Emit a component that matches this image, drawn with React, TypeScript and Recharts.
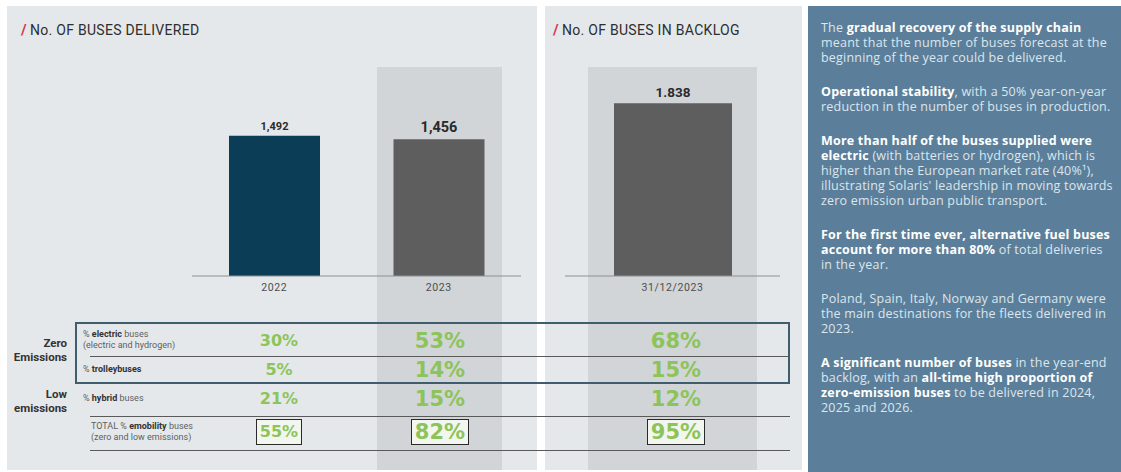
import { BarChart, Bar, XAxis, YAxis, Cell, LabelList } from 'recharts'

// bars
const deliveredYears = ['2022', '2023']
const deliveredBuses = [1492, 1456]
const deliveredLabels = ['1,492', '1,456']
const backlogDates = ['31/12/2023']
const backlogBuses = [1838]
const backlogLabels = ['1.838']

// table, one value per column: 2022, 2023, backlog
const electricShare = [30, 53, 68]
const trolleyShare = [5, 14, 15]
const hybridShare = [21, 15, 12]
const totalShare = [55, 82, 95]

const paragraphs: [string, boolean][][][] = [
  [
    [['The ', false], ['gradual recovery of the supply chain', true]],
    [['meant that the number of buses forecast at the', false]],
    [['beginning of the year could be delivered.', false]],
  ],
  [
    [['Operational stability', true], [', with a 50% year-on-year', false]],
    [['reduction in the number of buses in production.', false]],
  ],
  [
    [['More than half of the buses supplied were', true]],
    [['electric', true], [' (with batteries or hydrogen), which is', false]],
    [['higher than the European market rate (40%¹),', false]],
    [["illustrating Solaris' leadership in moving towards", false]],
    [['zero emission urban public transport.', false]],
  ],
  [
    [['For the first time ever, alternative fuel buses', true]],
    [['account for more than 80%', true], [' of total deliveries', false]],
    [['in the year.', false]],
  ],
  [
    [['Poland, Spain, Italy, Norway and Germany were', false]],
    [['the main destinations for the fleets delivered in', false]],
    [['2023.', false]],
  ],
  [
    [['A significant number of buses', true], ['  in the year-end', false]],
    [['backlog, with an ', false], ['all-time high proportion of', true]],
    [['zero-emission buses', true], [' to be delivered in 2024,', false]],
    [['2025 and 2026.', false]],
  ],
]

const PANEL = '#e4e8eb'
const HILITE = '#d1d5d8'
const GREEN = '#8cc45a'
const Y_MAX = 2000
const colX = [279, 440, 676]

const deliveredData = deliveredYears.map((year, i) => ({ year, value: deliveredBuses[i] }))
const backlogData = backlogDates.map((date, i) => ({ date, value: backlogBuses[i] }))

function valueLabel(labels: string[], sizes: number[], gaps: number[]) {
  return (props: any) => {
    const { x, y, width, index } = props
    return (
      <text
        x={Number(x) + Number(width) / 2}
        y={Number(y) - gaps[index]}
        textAnchor="middle"
        dominantBaseline="central"
        fontSize={sizes[index]}
        fontWeight={700}
        fill="#2a2a2a"
        fontFamily="Roboto"
      >
        {labels[index]}
      </text>
    )
  }
}

function Title({ x, text }: { x: number; text: string }) {
  return (
    <div style={{ position: 'absolute', left: x, top: 21, fontFamily: 'Roboto', fontSize: 14, fontWeight: 400, letterSpacing: 0.3, color: '#2e2e2e', whiteSpace: 'nowrap' }}>
      <span style={{ color: '#d23a4c', fontWeight: 700, marginRight: 3, fontSize: 15 }}>/</span>
      {text}
    </div>
  )
}

function Pct({ x, y, v, size, boxed }: { x: number; y: number; v: number; size: number; boxed?: boolean }) {
  return (
    <div
      style={{
        position: 'absolute',
        left: x - 40,
        width: 80,
        top: y - 15,
        height: 30,
        lineHeight: '30px',
        textAlign: 'center',
        fontFamily: 'DejaVu Sans',
        fontWeight: 700,
        fontSize: size,
        color: GREEN,
      }}
    >
      {boxed ? (
        <span style={{ display: 'inline-block', lineHeight: '24px', padding: '0 3px', border: '1.5px solid #2a2a2a', background: '#f3f6ef' }}>
          {v}%
        </span>
      ) : (
        `${v}%`
      )}
    </div>
  )
}

function HLine({ y, x1, x2, w, color }: { y: number; x1: number; x2: number; w: number; color: string }) {
  return <div style={{ position: 'absolute', left: x1, top: y, width: x2 - x1, height: w, background: color }} />
}

export default function App() {
  const small = { position: 'absolute' as const, left: 83, fontFamily: 'Roboto', fontSize: 9, color: '#5e5e5e', whiteSpace: 'nowrap' as const, lineHeight: '11px' }
  const group = { position: 'absolute' as const, right: 1121 - 67, fontFamily: 'Roboto', fontSize: 11.5, fontWeight: 700, color: '#333', textAlign: 'right' as const, lineHeight: '14px' }
  const tick = { fontSize: 10.5, fill: '#4d4d4d', fontFamily: 'Roboto', letterSpacing: 0.6 }
  return (
    <div style={{ position: 'relative', width: 1121, height: 472, background: '#fff', overflow: 'hidden' }}>
      <style>{'body{margin:0}'}</style>
      <div style={{ position: 'absolute', left: 7, top: 6, width: 530, height: 464, background: PANEL }} />
      <div style={{ position: 'absolute', left: 545, top: 6, width: 257, height: 464, background: PANEL }} />
      <div style={{ position: 'absolute', left: 377, top: 67, width: 125, height: 403, background: HILITE }} />
      <div style={{ position: 'absolute', left: 588, top: 67, width: 169, height: 403, background: HILITE }} />

      <Title x={21} text="No. OF BUSES DELIVERED" />
      <Title x={553} text="No. OF BUSES IN BACKLOG" />

      <div style={{ position: 'absolute', left: 192, top: 60 }}>
        <BarChart width={329} height={250} data={deliveredData} margin={{ top: 28, right: 0, left: 0, bottom: 0 }}>
          <XAxis dataKey="year" height={34} tickLine={false} axisLine={{ stroke: '#8c9195' }} tick={tick} interval={0} />
          <YAxis hide domain={[0, Y_MAX]} />
          <Bar dataKey="value" barSize={91} isAnimationActive={false}>
            {deliveredData.map((d, i) => (
              <Cell key={d.year} fill={i === 0 ? '#0b3d57' : '#5e5e5e'} />
            ))}
            <LabelList dataKey="value" content={valueLabel(deliveredLabels, [11, 14.5], [9, 12])} />
          </Bar>
        </BarChart>
      </div>

      <div style={{ position: 'absolute', left: 565, top: 60 }}>
        <BarChart width={215} height={250} data={backlogData} margin={{ top: 28, right: 0, left: 0, bottom: 0 }}>
          <XAxis dataKey="date" height={34} tickLine={false} axisLine={{ stroke: '#8c9195' }} tick={tick} interval={0} />
          <YAxis hide domain={[0, Y_MAX]} />
          <Bar dataKey="value" barSize={118} fill="#5e5e5e" isAnimationActive={false}>
            <LabelList dataKey="value" content={valueLabel(backlogLabels, [13.5], [11])} />
          </Bar>
        </BarChart>
      </div>

      {/* table */}
      <div style={{ position: 'absolute', left: 75, top: 322, width: 715, height: 62, border: '2px solid #3f5d6c', boxSizing: 'border-box' }} />
      <HLine y={356} x1={90} x2={790} w={1} color="#5a5a5a" />
      <HLine y={416} x1={90} x2={790} w={1} color="#5a5a5a" />
      <HLine y={450} x1={90} x2={790} w={1} color="#5a5a5a" />

      <div style={{ ...group, top: 336 }}>Zero<br />Emissions</div>
      <div style={{ ...group, top: 387 }}>Low<br />emissions</div>

      <div style={{ ...small, top: 329 }}>% <b style={{ color: '#333' }}>electric</b> buses<br />(electric and hydrogen)</div>
      <div style={{ ...small, top: 364 }}>% <b style={{ color: '#333' }}>trolleybuses</b></div>
      <div style={{ ...small, top: 393 }}>% <b style={{ color: '#333' }}>hybrid</b> buses</div>
      <div style={{ ...small, left: 91, top: 421 }}>TOTAL % <b style={{ color: '#333' }}>emobility</b> buses<br />(zero and low emissions)</div>

      {colX.map((x, i) => (
        <div key={i}>
          <Pct x={x} y={341} v={electricShare[i]} size={i === 0 ? 16 : 21} />
          <Pct x={x} y={370} v={trolleyShare[i]} size={i === 0 ? 16 : 21} />
          <Pct x={x} y={399} v={hybridShare[i]} size={i === 0 ? 16 : 21} />
          <Pct x={x} y={432} v={totalShare[i]} size={i === 0 ? 16 : 21} boxed />
        </div>
      ))}

      {/* commentary */}
      <div style={{ position: 'absolute', left: 808, top: 6, width: 313, height: 466, background: '#5b7f9a' }} />
      <div style={{ position: 'absolute', left: 821, top: 20, fontFamily: 'Open Sans', fontSize: 12.5, letterSpacing: 0.2, lineHeight: '15px', color: '#dce6ed', whiteSpace: 'nowrap' }}>
        {paragraphs.map((p, pi) => (
          <div key={pi} style={{ marginBottom: 19 }}>
            {p.map((line, li) => (
              <div key={li}>
                {line.map(([t, b], si) => (
                  <span key={si} style={b ? { fontWeight: 700, color: '#fff' } : undefined}>{t}</span>
                ))}
              </div>
            ))}
          </div>
        ))}
      </div>
    </div>
  )
}
